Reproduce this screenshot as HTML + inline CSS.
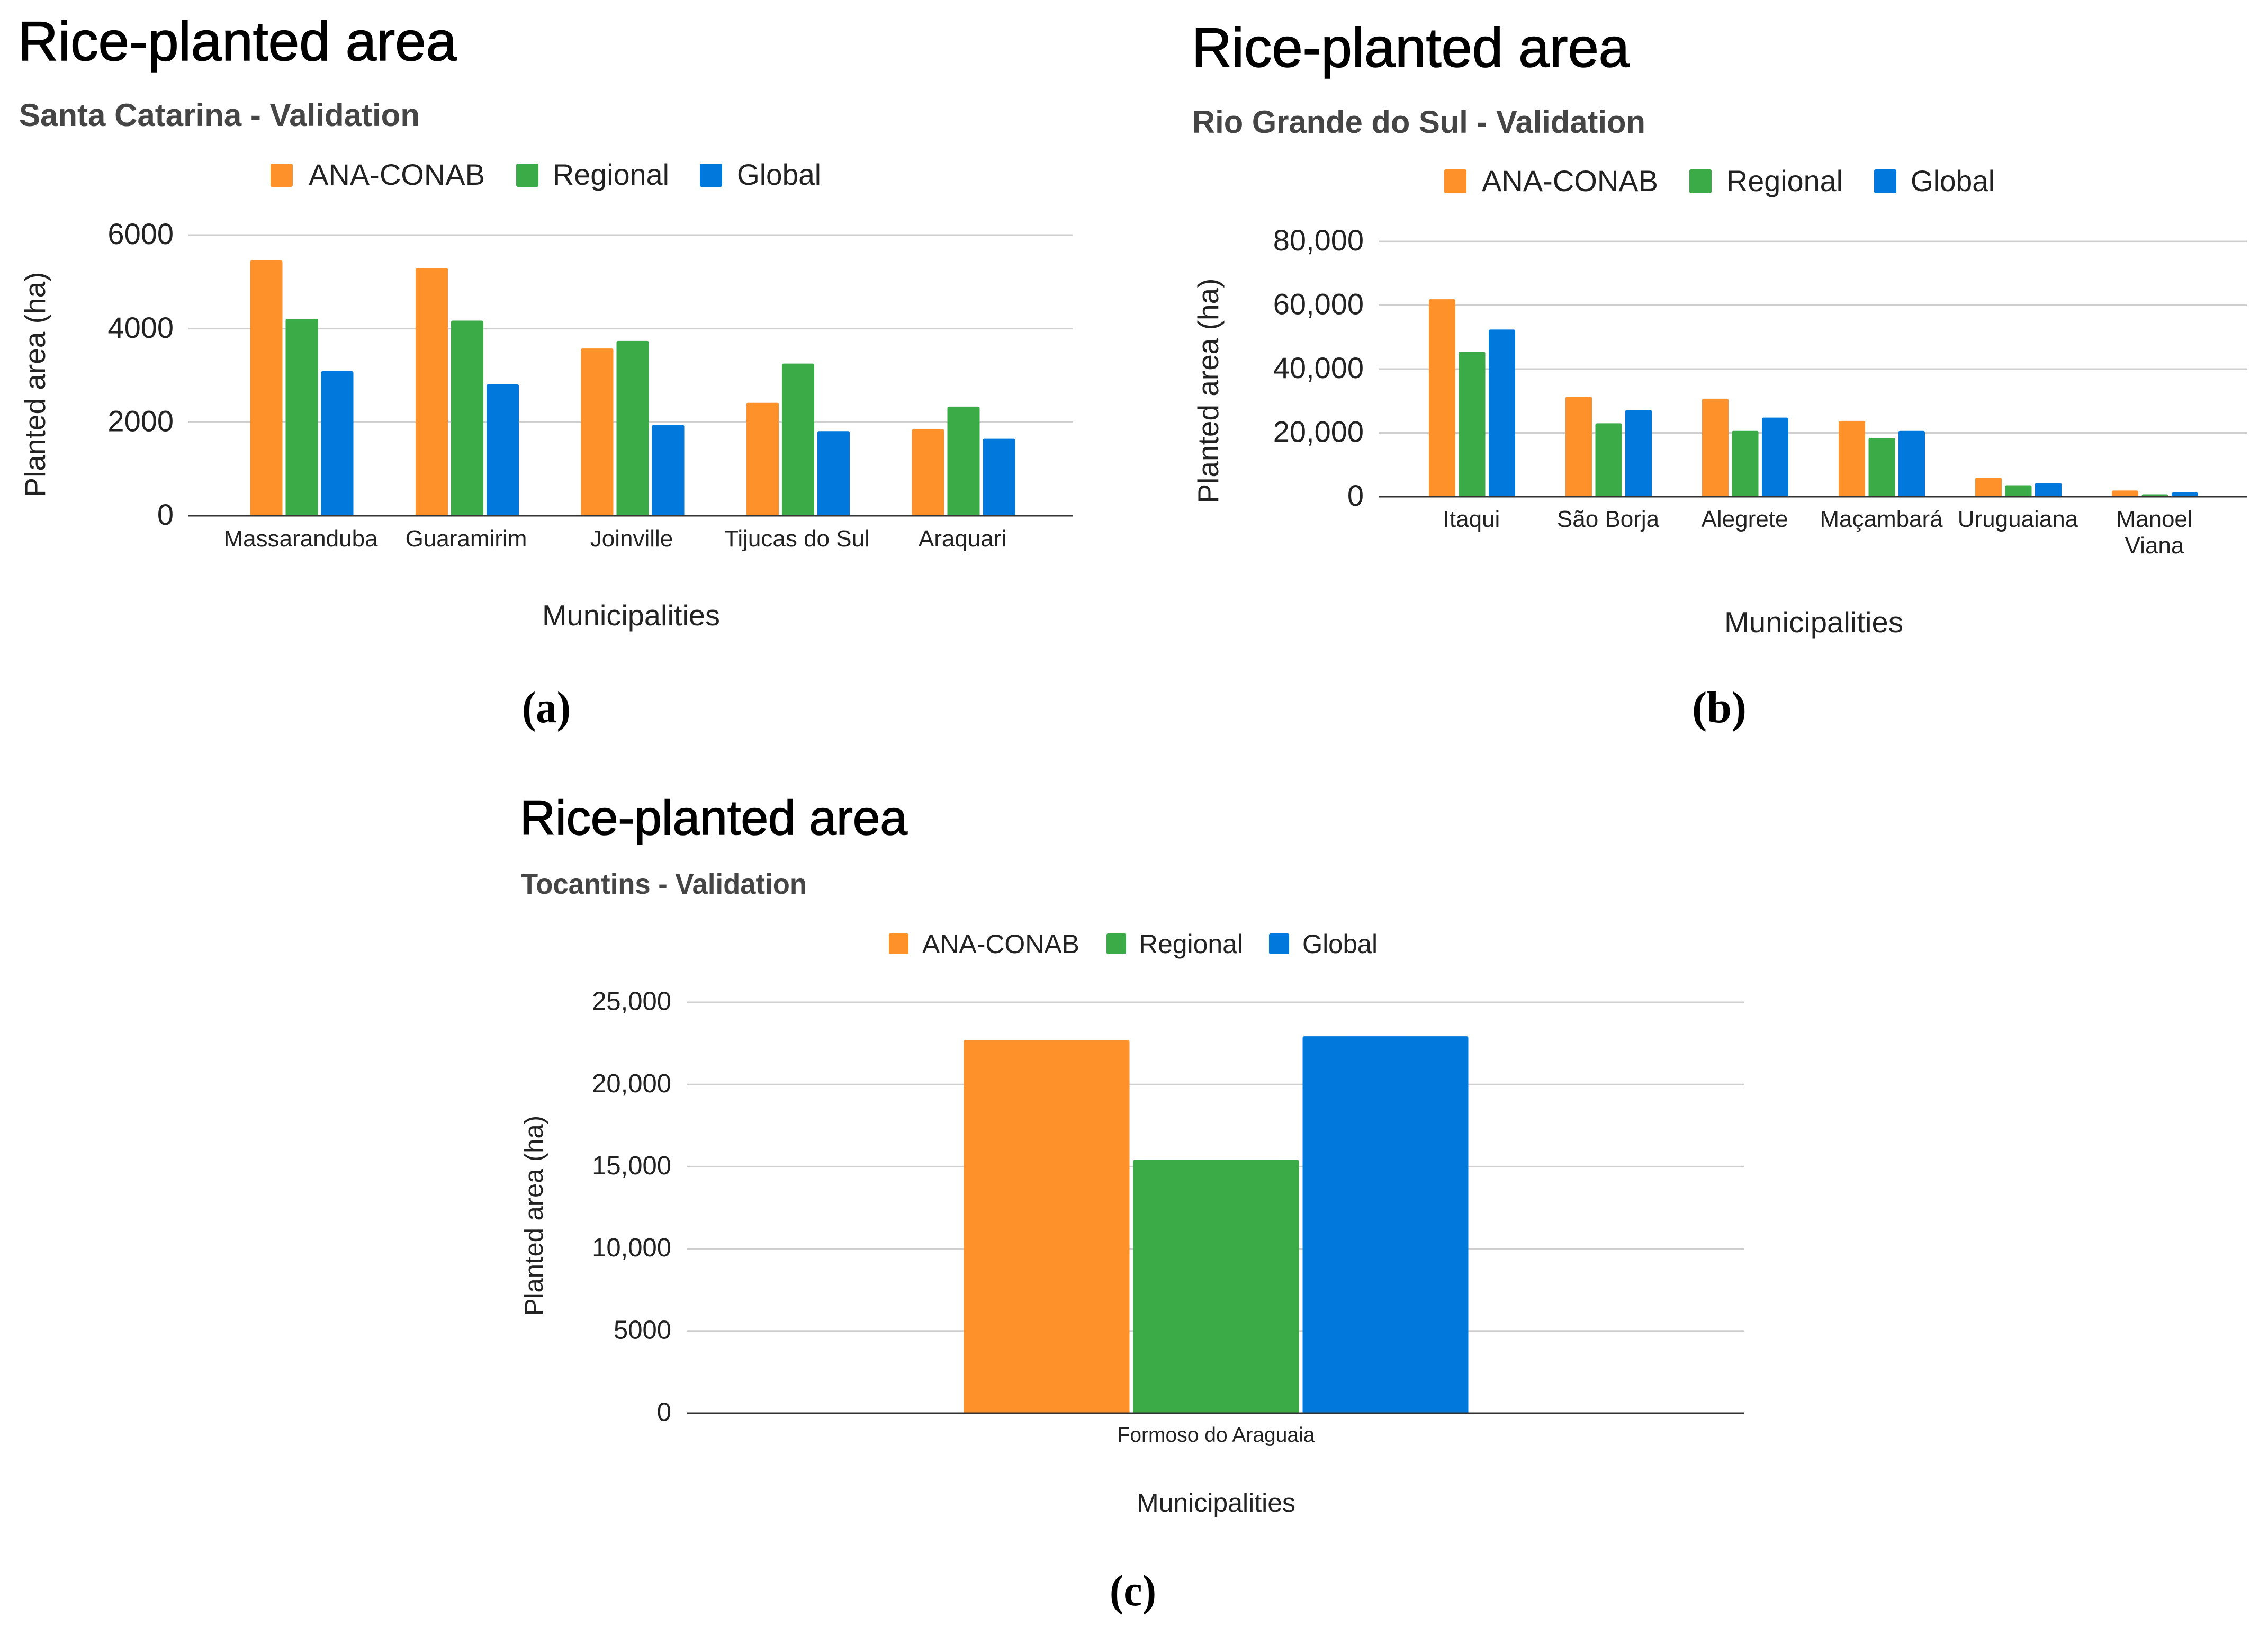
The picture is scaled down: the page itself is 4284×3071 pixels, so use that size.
<!DOCTYPE html>
<html lang="en">
<head>
<meta charset="utf-8">
<title>Rice-planted area</title>
<style>
html,body{margin:0;padding:0;background:#fff}
svg{display:block}
text{font-family:"Liberation Sans",sans-serif}
.title{font-size:105px;fill:#000;stroke:#000;stroke-width:1.5px}
.sub{font-size:60px;font-weight:700;fill:#454545}
.leg{font-size:56px;fill:#222}
.legc{font-size:50px;fill:#222}
.axt{font-size:55px;fill:#222}
.axtc{font-size:49px;fill:#222}
.panel{font-family:"Liberation Serif",serif;font-size:84px;font-weight:700;fill:#000}
</style>
</head>
<body>
<svg id="figure" xmlns="http://www.w3.org/2000/svg" width="4284" height="3071" viewBox="0 0 4284 3071">
<rect width="4284" height="3071" fill="#fff"/>

<g id="chart-a">
<text class="title" x="34" y="114" textLength="829" lengthAdjust="spacingAndGlyphs">Rice-planted area</text>
<text class="sub" x="36" y="238" textLength="757" lengthAdjust="spacingAndGlyphs">Santa Catarina - Validation</text>
<g>
<rect x="511" y="309" width="42" height="44" rx="3" fill="#FF912B"/>
<text class="leg" x="583" y="349" textLength="333" lengthAdjust="spacingAndGlyphs">ANA-CONAB</text>
<rect x="975" y="309" width="42" height="44" rx="3" fill="#3AAB47"/>
<text class="leg" x="1044" y="349" textLength="220" lengthAdjust="spacingAndGlyphs">Regional</text>
<rect x="1322" y="309" width="42" height="44" rx="3" fill="#0078DC"/>
<text class="leg" x="1392" y="349" textLength="159" lengthAdjust="spacingAndGlyphs">Global</text>
</g>
<text class="axt" transform="translate(85,726) rotate(-90)" text-anchor="middle" textLength="425" lengthAdjust="spacingAndGlyphs">Planted area (ha)</text>
<text class="axt" x="1192" y="1181" text-anchor="middle" textLength="336" lengthAdjust="spacingAndGlyphs">Municipalities</text>
<text class="panel" x="986" y="1364" textLength="92" lengthAdjust="spacingAndGlyphs">(a)</text>
</g>

<g id="chart-b">
<text class="title" x="2251" y="126" textLength="827" lengthAdjust="spacingAndGlyphs">Rice-planted area</text>
<text class="sub" x="2252" y="251" textLength="856" lengthAdjust="spacingAndGlyphs">Rio Grande do Sul - Validation</text>
<g>
<rect x="2728" y="320" width="42" height="45" rx="3" fill="#FF912B"/>
<text class="leg" x="2799" y="361" textLength="333" lengthAdjust="spacingAndGlyphs">ANA-CONAB</text>
<rect x="3191" y="320" width="42" height="45" rx="3" fill="#3AAB47"/>
<text class="leg" x="3261" y="361" textLength="220" lengthAdjust="spacingAndGlyphs">Regional</text>
<rect x="3540" y="320" width="42" height="45" rx="3" fill="#0078DC"/>
<text class="leg" x="3609" y="361" textLength="159" lengthAdjust="spacingAndGlyphs">Global</text>
</g>
<text class="axt" transform="translate(2301,738) rotate(-90)" text-anchor="middle" textLength="425" lengthAdjust="spacingAndGlyphs">Planted area (ha)</text>
<text class="axt" x="3426" y="1194" text-anchor="middle" textLength="338" lengthAdjust="spacingAndGlyphs">Municipalities</text>
<text class="panel" x="3196" y="1364" textLength="103" lengthAdjust="spacingAndGlyphs">(b)</text>
</g>

<g id="chart-c">
<text class="title" style="font-size:92px" x="982" y="1576" textLength="732" lengthAdjust="spacingAndGlyphs">Rice-planted area</text>
<text class="sub" style="font-size:54px" x="984" y="1688" textLength="540" lengthAdjust="spacingAndGlyphs">Tocantins - Validation</text>
<g>
<rect x="1679" y="1763" width="37" height="39" rx="3" fill="#FF912B"/>
<text class="legc" x="1742" y="1800" textLength="297" lengthAdjust="spacingAndGlyphs">ANA-CONAB</text>
<rect x="2090" y="1763" width="37" height="39" rx="3" fill="#3AAB47"/>
<text class="legc" x="2151" y="1800" textLength="197" lengthAdjust="spacingAndGlyphs">Regional</text>
<rect x="2397" y="1763" width="38" height="39" rx="3" fill="#0078DC"/>
<text class="legc" x="2460" y="1800" textLength="142" lengthAdjust="spacingAndGlyphs">Global</text>
</g>
<text class="axtc" transform="translate(1025,2296) rotate(-90)" text-anchor="middle" textLength="378" lengthAdjust="spacingAndGlyphs">Planted area (ha)</text>
<text class="axtc" x="2297" y="2855" text-anchor="middle" textLength="300" lengthAdjust="spacingAndGlyphs">Municipalities</text>
<text class="panel" x="2096" y="3032" textLength="88" lengthAdjust="spacingAndGlyphs">(c)</text>
</g>
</svg>

<script>
var seriesNames = ['ANA-CONAB', 'Regional', 'Global'];
var seriesColors = ['#FF912B', '#3AAB47', '#0078DC'];

var categoriesA = ['Massaranduba', 'Guaramirim', 'Joinville', 'Tijucas do Sul', 'Araquari'];
var anaConabA = [5457, 5293, 3576, 2414, 1848];
var regionalA = [4212, 4172, 3737, 3253, 2333];
var globalA = [3090, 2808, 1939, 1808, 1646];
var tickValuesA = [0, 2000, 4000, 6000];
var tickLabelsA = ['0', '2000', '4000', '6000'];

var categoriesB = ['Itaqui', 'São Borja', 'Alegrete', 'Maçambará', 'Uruguaiana', 'Manoel\nViana'];
var anaConabB = [61893, 31317, 30724, 23748, 5937, 1930];
var regionalB = [45417, 23006, 20631, 18404, 3562, 742];
var globalB = [52393, 27161, 24787, 20631, 4304, 1336];
var tickValuesB = [0, 20000, 40000, 60000, 80000];
var tickLabelsB = ['0', '20,000', '40,000', '60,000', '80,000'];

var categoriesC = ['Formoso do Araguaia'];
var anaConabC = [22703];
var regionalC = [15413];
var globalC = [22936];
var tickValuesC = [0, 5000, 10000, 15000, 20000, 25000];
var tickLabelsC = ['0', '5000', '10,000', '15,000', '20,000', '25,000'];

var SVG_NS = 'http://www.w3.org/2000/svg';

function makeEl(parent, tag, attrs, content) {
  var node = document.createElementNS(SVG_NS, tag);
  for (var key in attrs) {
    node.setAttribute(key, attrs[key]);
  }
  if (content !== undefined) {
    node.textContent = content;
  }
  parent.appendChild(node);
  return node;
}

function drawChart(groupId, data, frame) {
  var parent = document.getElementById(groupId);
  var maxTick = data.ticks[data.ticks.length - 1];

  function yScale(v) {
    return frame.y0 - (v / maxTick) * (frame.y0 - frame.yTop);
  }
  function xCenter(i) {
    return frame.firstCenter + frame.step * i;
  }

  data.ticks.forEach(function (tick, i) {
    var y = yScale(tick);
    if (tick !== 0) {
      var grid = makeEl(parent, 'line', {x1: frame.xLeft, x2: frame.xRight, y1: y, y2: y, stroke: '#cfcfcf', 'stroke-width': 3});
      
      
    }
    var label = makeEl(parent, 'text', {x: frame.tickRight, y: y + frame.tickFont * 0.36 - 3, 'text-anchor': 'end', 'font-size': frame.tickFont, fill: '#222'}, data.tickLabels[i]);
    
    
  });

  data.categories.forEach(function (cat, c) {
    data.series.forEach(function (values, s) {
      var left = xCenter(c) - (frame.barW * 1.5 + frame.barGap) + s * (frame.barW + frame.barGap);
      var top = yScale(values[c]);
      var bar = makeEl(parent, 'path', {
        d: 'M' + left + ' ' + frame.y0 + 'V' + (top + 3) + 'Q' + left + ' ' + top + ' ' + (left + 3) + ' ' + top +
           'H' + (left + frame.barW - 3) + 'Q' + (left + frame.barW) + ' ' + top + ' ' + (left + frame.barW) + ' ' + (top + 3) +
           'V' + frame.y0 + 'Z',
        fill: seriesColors[s]
      });
      
      
    });
    var lines = cat.split('\n');
    lines.forEach(function (line, l) {
      var catLabel = makeEl(parent, 'text', {x: xCenter(c) + frame.catShift, y: frame.catBaseline + l * frame.catLeading, 'text-anchor': 'middle', 'font-size': frame.catFont, fill: '#222'}, line);
      
      
    });
  });

  var axis = makeEl(parent, 'line', {x1: frame.xLeft, x2: frame.xRight, y1: frame.y0, y2: frame.y0, stroke: '#333', 'stroke-width': 3});
  
  
}

drawChart('chart-a',
  {categories: categoriesA, series: [anaConabA, regionalA, globalA], ticks: tickValuesA, tickLabels: tickLabelsA},
  {y0: 974, yTop: 444, xLeft: 356, xRight: 2027, firstCenter: 570, step: 312.5, barW: 61, barGap: 6, tickRight: 328, tickFont: 56, catBaseline: 1032, catFont: 44, catLeading: 50, catShift: -2});

drawChart('chart-b',
  {categories: categoriesB, series: [anaConabB, regionalB, globalB], ticks: tickValuesB, tickLabels: tickLabelsB},
  {y0: 938, yTop: 456, xLeft: 2604, xRight: 4244, firstCenter: 2780.5, step: 258, barW: 50, barGap: 6.5, tickRight: 2576, tickFont: 56, catBaseline: 995, catFont: 44, catLeading: 50, catShift: -1});

drawChart('chart-c',
  {categories: categoriesC, series: [anaConabC, regionalC, globalC], ticks: tickValuesC, tickLabels: tickLabelsC},
  {y0: 2669, yTop: 1893, xLeft: 1297, xRight: 3295, firstCenter: 2297, step: 0, barW: 313, barGap: 7, tickRight: 1268, tickFont: 49, catBaseline: 2723, catFont: 39, catLeading: 42, catShift: 0});
</script>
</body>
</html>
